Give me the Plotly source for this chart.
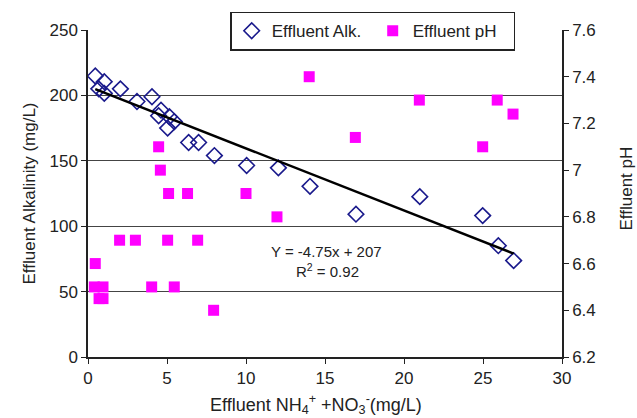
import plotly.graph_objects as go

# Effluent alkalinity (left axis)
alk_x = [0.46, 1.03, 0.68, 1.03, 2.05, 3.1, 4.05, 4.62, 4.47, 5.15, 5.46, 5.04,
         6.37, 7.0, 8.0, 10.04, 12.05, 14.05, 16.96, 21.0, 24.98, 25.97, 26.94]
alk_y = [214.8, 210.5, 205, 201.6, 205, 195.3, 199, 188.7, 184.4, 183.7, 180, 175,
         164, 164, 154, 146.4, 144.6, 130.5, 109.2, 122.6, 108.1, 85.1, 73.7]

# Effluent pH (right axis)
ph_x = [14.0, 20.97, 25.9, 26.9, 16.92, 24.98, 4.47, 4.58, 5.1, 6.3, 10.0, 11.96,
        2.0, 3.0, 5.04, 6.94, 0.46, 0.4, 0.95, 0.7, 0.95, 4.03, 5.46, 7.95]
ph_y = [7.4, 7.3, 7.3, 7.24, 7.14, 7.1, 7.1, 7.0, 6.9, 6.9, 6.9, 6.8,
        6.7, 6.7, 6.7, 6.7, 6.6, 6.5, 6.5, 6.45, 6.45, 6.5, 6.5, 6.4]

# Linear fit shown on chart
slope, intercept = -4.75, 207
trend_x = [min(alk_x), max(alk_x)]
trend_y = [slope * v + intercept for v in trend_x]

ph_ticks = [6.2, 6.4, 6.6, 6.8, 7.0, 7.2, 7.4, 7.6]
ph_ticktext = ["6.2", "6.4", "6.6", "6.8", "7", "7.2", "7.4", "7.6"]

font_family = "Liberation Sans, Arial, sans-serif"
txt = "#222222"

fig = go.Figure()
fig.add_trace(go.Scatter(
    x=alk_x, y=alk_y, mode="markers", name="Effluent Alk.",
    marker=dict(symbol="diamond-open", size=12, color="#1a1a8c", line=dict(width=1.6, color="#1a1a8c")),
))
fig.add_trace(go.Scatter(
    x=ph_x, y=ph_y, mode="markers", name="Effluent pH", yaxis="y2",
    marker=dict(symbol="square", size=11, color="#ff00ff", line=dict(width=0)),
))
fig.add_trace(go.Scatter(
    x=trend_x, y=trend_y, mode="lines", showlegend=False,
    line=dict(color="black", width=2.5), hoverinfo="skip",
))

fig.add_annotation(x=15.1, y=80.5, xref="x", yref="y", text="Y = -4.75x + 207",
                   showarrow=False, font=dict(size=15, color=txt, family=font_family))
fig.add_annotation(x=15.15, y=66, xref="x", yref="y", text="R<sup>2</sup> = 0.92",
                   showarrow=False, font=dict(size=15, color=txt, family=font_family))
# axis titles placed as annotations to match reference offsets
fig.add_annotation(x=0.481, y=-0.145, xref="paper", yref="paper", xanchor="center", yanchor="middle",
                   text="Effluent NH<sub>4</sub><sup>+</sup> +NO<sub>3</sub><sup>-</sup>(mg/L)",
                   showarrow=False, font=dict(size=18, color=txt, family=font_family))
fig.add_annotation(x=1.137, y=0.515, xref="paper", yref="paper", xanchor="center", yanchor="middle",
                   text="Effluent pH", textangle=-90,
                   showarrow=False, font=dict(size=17, color=txt, family=font_family))

fig.update_layout(
    width=637, height=418,
    margin=dict(l=88, r=75, t=28, b=61),
    paper_bgcolor="white", plot_bgcolor="white",
    font=dict(family=font_family, size=17, color=txt),
    showlegend=True,
    legend=dict(orientation="h", x=0.30, y=1.056, xanchor="left", yanchor="top",
                bgcolor="white", bordercolor="#222222", borderwidth=1.5,
                font=dict(size=17), itemwidth=30, entrywidthmode="pixels", entrywidth=96),
    xaxis=dict(range=[0, 30], tickvals=[0, 5, 10, 15, 20, 25, 30], showgrid=False,
               zeroline=False, showline=True, linecolor="#222", linewidth=1.5, automargin=False,
               ticks="outside", ticklen=5, tickcolor="#222"),
    yaxis=dict(range=[0, 250], tickvals=[0, 50, 100, 150, 200, 250], showgrid=True,
               gridcolor="#444444", gridwidth=1, zeroline=False, showline=True, automargin=False,
               linecolor="#222", linewidth=1.5, ticks="outside", ticklen=5, tickcolor="#222",
               title=dict(text="Effluent Alkalinity (mg/L)", font=dict(size=17), standoff=10)),
    yaxis2=dict(range=[6.2, 7.6], overlaying="y", side="right", tickvals=ph_ticks, automargin=False,
                ticktext=ph_ticktext, showgrid=False, zeroline=False, showline=True,
                linecolor="#222", linewidth=1.5, ticks="outside", ticklen=5, tickcolor="#222"),
)

fig.write_html("out.html")
